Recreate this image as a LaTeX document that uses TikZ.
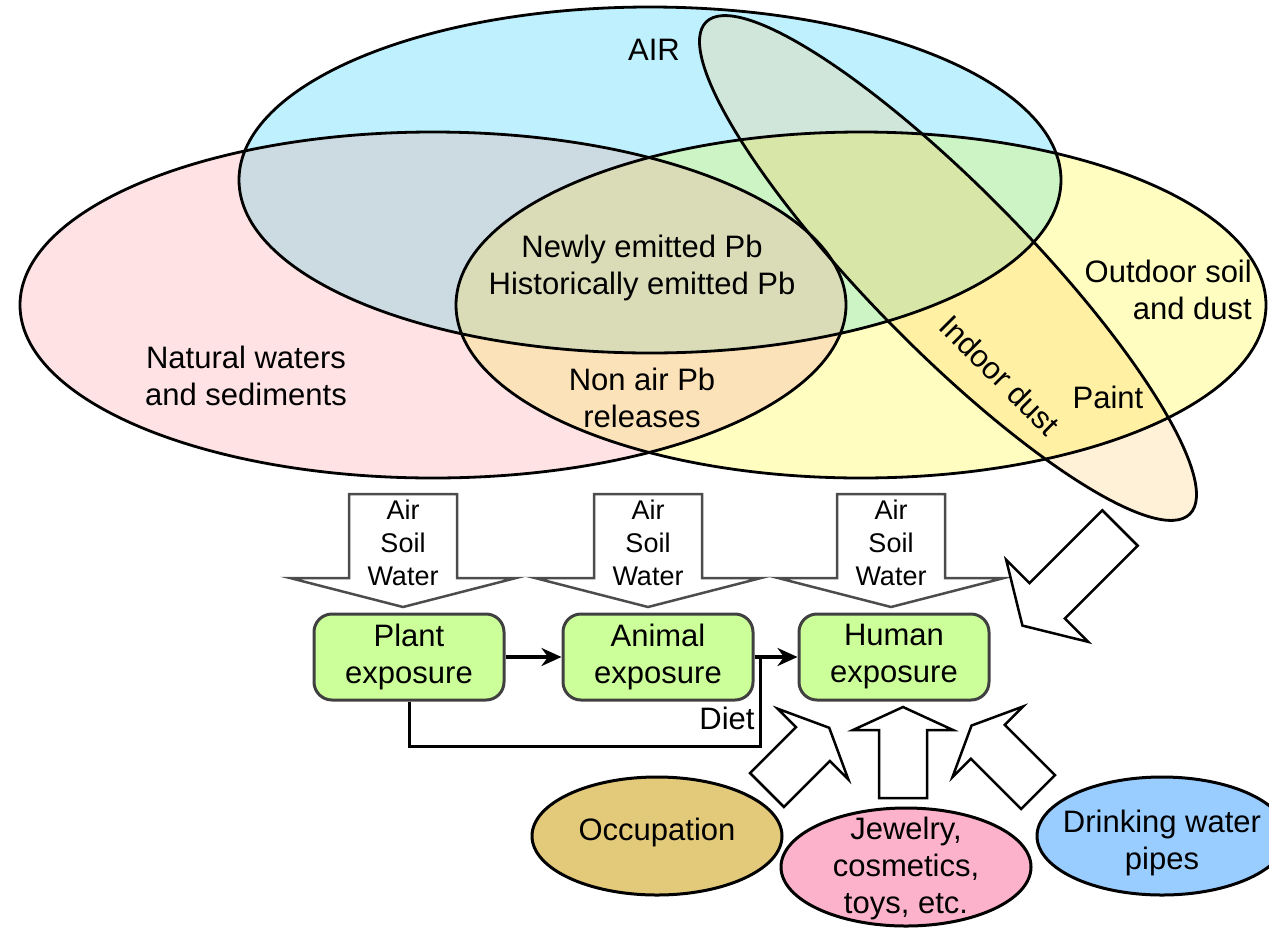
\documentclass[tikz,border=0pt]{standalone}
\usepackage{fontspec}
\setmainfont{Liberation Sans}
\usetikzlibrary{arrows.meta,positioning,shapes.geometric}
\definecolor{aircol}{RGB}{190,240,254}
\definecolor{watercol}{RGB}{254,226,228}
\definecolor{soilcol}{RGB}{255,254,192}
\definecolor{airwater}{RGB}{204,218,226}
\definecolor{airsoil}{RGB}{204,244,196}
\definecolor{watersoil}{RGB}{252,226,184}
\definecolor{allcol}{RGB}{217,220,183}
\definecolor{dustcol}{RGB}{255,240,216}
\definecolor{dustair}{RGB}{208,230,218}
\definecolor{dustsoil}{RGB}{255,240,164}
\definecolor{dustairsoil}{RGB}{216,230,168}
\definecolor{boxgreen}{RGB}{204,255,153}
\definecolor{occcol}{RGB}{227,202,122}
\definecolor{jewcol}{RGB}{253,178,204}
\definecolor{pipecol}{RGB}{153,204,255}
\newcommand{\venntxt}{\fontsize{31}{37}\selectfont}
\newcommand{\flowtxt}{\fontsize{27}{33}\selectfont}
\tikzset{
  rim/.style={draw, line width=2.8pt},
  lbl/.style={align=center, font=\venntxt, inner sep=0pt},
  flow/.style={align=center, font=\flowtxt, inner sep=0pt},
  expbox/.style={draw=black!75, line width=3pt, rounded corners=18pt, fill=boxgreen, minimum width=190pt, minimum height=86pt, align=center, font=\venntxt, inner sep=0pt},
  conn/.style={-{Stealth[length=20pt, width=18pt]}, line width=3.5pt},
  dietline/.style={line width=3pt},
  srcell/.style={draw, ellipse, line width=3pt, minimum width=250pt, minimum height=118pt, inner sep=0pt},
  flowarr/.style={draw=black!70, line width=2.5pt, fill=white, line join=miter},
  hollow/.style={draw, line width=2.5pt, fill=white, line join=miter},
}

\begin{document}
\begin{tikzpicture}[x=1pt,y=-1pt]
\useasboundingbox (0,0) rectangle (1269,927);
\def\air{(650,180) ellipse [x radius=411, y radius=173]}
\def\water{(433,305) ellipse [x radius=413, y radius=173]}
\def\soil{(861,305) ellipse [x radius=405, y radius=173]}
\fill[aircol] \air; \fill[watercol] \water; \fill[soilcol] \soil;
\begin{scope} \clip \water; \fill[watersoil] \soil; \end{scope}
\begin{scope} \clip \air; \fill[airwater] \water; \fill[airsoil] \soil; \clip \water; \fill[allcol] \soil; \end{scope}
\fill[dustcol, rotate around={-45.5:(948,268)}] (948,268) ellipse [x radius=345, y radius=80];
\begin{scope}
\clip[rotate around={-45.5:(948,268)}] (948,268) ellipse [x radius=345, y radius=80];
\fill[dustair] \air; \fill[dustsoil] \soil; \clip \air; \fill[dustairsoil] \soil;
\end{scope}
\draw[rim] \air; \draw[rim] \water; \draw[rim] \soil;
\draw[rim, rotate around={-45.5:(948,268)}] (948,268) ellipse [x radius=345, y radius=80];
\node[lbl] (tair) at (654,50) {AIR};
\node[lbl] (tpb) at (642,268) {Newly emitted Pb\\Historically emitted Pb};
\node[lbl] (twater) at (246,376) {Natural waters\\and sediments};
\node[lbl] (tnonair) at (642,398) {Non air Pb\\releases};
\node[lbl, align=right, anchor=east] (tsoil) at (1252,290) {Outdoor soil\\and dust};
\node[lbl] (tpaint) at (1108,397) {Paint};
\node[lbl, rotate=-45] (tdust) at (1000,375) {Indoor dust};
\foreach \n/\x in {pl/403, an/648, hu/891} {
  \draw[flowarr, shift={(\x,494)}, rotate=-90] (0,-54) -- (84,-54) -- (84,-113) -- (113,0) -- (84,113) -- (84,54) -- (0,54) -- cycle;
  \node[flow] (m\n) at (\x,543) {Air\\Soil\\Water};
}
\foreach \n/\t/\x in {plant/Plant/409, animal/Animal/658, human/Human/894}
  \node[expbox] (\n) at (\x,657) {\t\\exposure};
\draw[conn] (plant) -- (animal);
\draw[conn] (animal) -- (human);
\coordinate (dietj) at (760,657);
\draw[dietline] (plant.south) -- ++(0,45) -| (dietj);
\node[lbl] (diet) at (727,718) {Diet};
\foreach \x/\y/\a/\l/\s/\h/\k in {767/790/45/88/24/50/23, 903/798/90/91/24/50/23, 1038/792/135/94/24/50/23, 1120/528/225/138/25/58/35}
  \draw[hollow, shift={(\x,\y)}, rotate=\a] (0,-\s) -- (\l-\k,-\s) -- (\l-\k,-\h) -- (\l,0) -- (\l-\k,\h) -- (\l-\k,\s) -- (0,\s) -- cycle;
\node[srcell, fill=occcol] (occ) at (657,836) {};
\node[lbl] (occt) at (657,832) {Occupation};
\node[srcell, fill=jewcol] (jew) at (906,867) {};
\node[lbl] (jewt) at (906,868) {Jewelry,\\cosmetics,\\toys, etc.};
\node[srcell, fill=pipecol] (pipe) at (1162,836) {};
\node[lbl] (pipet) at (1162,843) {Drinking water\\pipes};
\end{tikzpicture}
\end{document}
